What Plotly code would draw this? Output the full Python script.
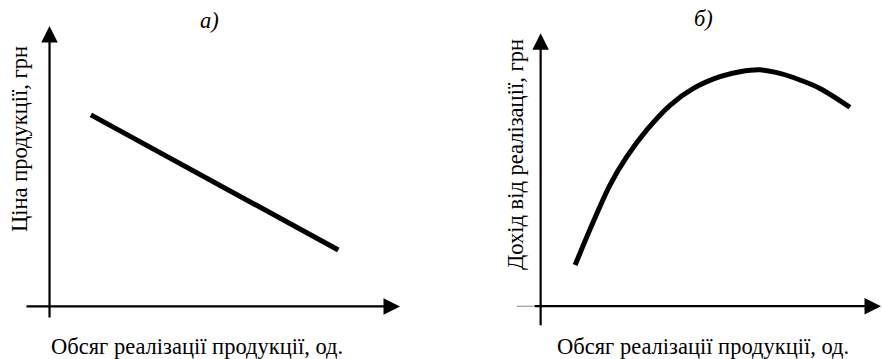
import plotly.graph_objects as go

# ---- data ----
price_x = [1.18, 8.24]
price_y = [6.83, 2.01]

revenue_x = [1.00, 1.53, 2.01, 2.50, 3.08, 3.76, 4.43, 5.20, 5.78, 6.36, 6.94, 7.52, 8.10, 8.97]
revenue_y = [1.51, 3.10, 4.44, 5.48, 6.46, 7.37, 7.98, 8.41, 8.59, 8.66, 8.53, 8.29, 7.98, 7.29]

panel_titles = ["а)", "б)"]
x_title = "Обсяг реалізації продукції, од."
y_titles = ["Ціна продукції, грн", "Дохід від реалізації, грн"]

W, H = 882, 359
FONT = "Liberation Serif"
FS = 22.5
tf = dict(family=FONT, size=FS, color="black")

fig = go.Figure()
fig.add_trace(go.Scatter(x=price_x, y=price_y, mode="lines",
                         line=dict(color="black", width=5),
                         xaxis="x", yaxis="y", hoverinfo="skip"))
fig.add_trace(go.Scatter(x=revenue_x, y=revenue_y, mode="lines",
                         line=dict(color="black", width=5, shape="spline", smoothing=1.0),
                         xaxis="x2", yaxis="y2", hoverinfo="skip"))

hidden = dict(visible=False, showgrid=False, zeroline=False, fixedrange=True)

fig.update_layout(
    width=W, height=H,
    margin=dict(l=0, r=0, t=0, b=0),
    paper_bgcolor="white", plot_bgcolor="white",
    showlegend=False,
    font=tf,
    xaxis=dict(domain=[25 / W, 400 / W], range=[-0.7, 10.0], **hidden),
    yaxis=dict(domain=[1 - 319 / H, 1 - 26 / H], range=[-0.45, 10.0], **hidden),
    xaxis2=dict(domain=[516.5 / W, 1.0], range=[-0.7, 9.9], **hidden),
    yaxis2=dict(domain=[1 - 326.7 / H, 1 - 33.3 / H], range=[-0.75, 10.0], **hidden),
)

arrow = dict(text="", showarrow=True, arrowhead=2, arrowsize=1.5, arrowwidth=2.2,
             arrowcolor="black", standoff=0)

anns = [
    # left panel axes
    dict(x=0, y=10, ax=0, ay=-0.45, xref="x", yref="y", axref="x", ayref="y", **arrow),
    dict(x=10, y=0, ax=-0.7, ay=0, xref="x", yref="y", axref="x", ayref="y", **arrow),
    # right panel axes
    dict(x=0, y=10, ax=0, ay=-0.75, xref="x2", yref="y2", axref="x2", ayref="y2", **arrow),
    dict(x=888 / W, y=1 - 306.2 / H, ax=-(888 - 533), ay=0, xref="paper", yref="paper", **arrow),
    # panel titles
    dict(x=209 / W, y=1 - 20 / H, text="<i>" + panel_titles[0] + "</i>", showarrow=False,
         xref="paper", yref="paper", xanchor="center", yanchor="middle", font=tf),
    dict(x=703 / W, y=1 - 19 / H, text="<i>" + panel_titles[1] + "</i>", showarrow=False,
         xref="paper", yref="paper", xanchor="center", yanchor="middle", font=tf),
    # x titles
    dict(x=197 / W, y=1 - 346 / H, text=x_title, showarrow=False, xref="paper", yref="paper",
         xanchor="center", yanchor="middle", font=tf),
    dict(x=703 / W, y=1 - 346 / H, text=x_title, showarrow=False, xref="paper", yref="paper",
         xanchor="center", yanchor="middle", font=tf),
    # y titles
    dict(x=20 / W, y=1 - 139 / H, text=y_titles[0], textangle=-90, showarrow=False,
         xref="paper", yref="paper", xanchor="center", yanchor="middle", font=tf),
    dict(x=516 / W, y=1 - 155 / H, text=y_titles[1], textangle=-90, showarrow=False,
         xref="paper", yref="paper", xanchor="center", yanchor="middle", font=tf),
]

fig.update_layout(
    annotations=anns,
    shapes=[dict(type="line", xref="x2", yref="y2", x0=-0.7, x1=-0.2, y0=0, y1=0,
                 line=dict(color="#888888", width=1))],
)

fig.write_html("out.html", config={"displayModeBar": False},
               post_script="document.body.style.margin='0px';document.body.style.overflow='hidden';")
